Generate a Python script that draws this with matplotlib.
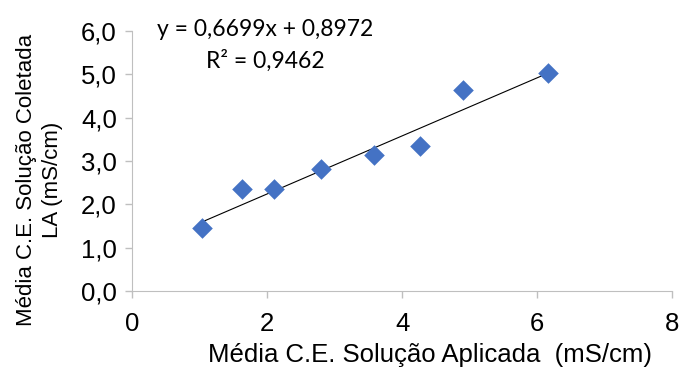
import matplotlib.pyplot as plt

x_aplicada = [1.04, 1.63, 2.10, 2.80, 3.59, 4.27, 4.90, 6.16]
y_coletada = [1.45, 2.35, 2.35, 2.81, 3.13, 3.34, 4.63, 5.02]
slope, intercept = 0.6699, 0.8972
r2 = 0.9462
xticks = [0, 2, 4, 6, 8]
yticks = [0, 1, 2, 3, 4, 5, 6]

plt.rcParams['font.family'] = ['Liberation Sans', 'DejaVu Sans']

fig = plt.figure(figsize=(6.81, 3.72), dpi=100)
ax = fig.add_axes([0.194, 0.218, 0.793, 0.699])

ax.scatter(x_aplicada, y_coletada, marker='D', s=110, color='#4472C4', zorder=3, linewidths=0)
xl = [min(x_aplicada), max(x_aplicada)]
ax.plot(xl, [slope * v + intercept for v in xl], color='black', lw=0.8, zorder=2)

ax.set_xlim(0, 8)
ax.set_ylim(0, 6)
ax.set_xticks(xticks)
ax.set_yticks(yticks)
ax.set_yticklabels([f'{v:.1f}'.replace('.', ',') for v in yticks])
ax.tick_params(labelsize=18.5, color='#bfbfbf', length=5, width=1)
ax.tick_params(axis='x', pad=10)
ax.tick_params(axis='y', pad=6)
for s in ['top', 'right']:
    ax.spines[s].set_visible(False)
for s in ['left', 'bottom']:
    ax.spines[s].set_color('#bfbfbf')

ax.set_xlabel('Média C.E. Solução Aplicada  (mS/cm)', fontsize=18.5)
ax.xaxis.set_label_coords(0.552, -0.2)
ax.set_ylabel('Média C.E. Solução Coletada\nLA (mS/cm)', fontsize=16, linespacing=1.3)
ax.yaxis.set_label_coords(-0.128, 0.427)

eq = f'y = {slope:.4f}x + {intercept:.4f}'.replace('.', ',')
r2txt = f'R² = {r2:.4f}'.replace('.', ',')
fig.text(265 / 681, 1 - 30 / 372, eq, ha='center', va='center', fontsize=16.5, family=['Lato', 'DejaVu Sans'])
fig.text(265 / 681, 1 - 61 / 372, r2txt, ha='center', va='center', fontsize=16.5, family=['Lato', 'DejaVu Sans'])

fig.savefig('out.png', dpi=100)
